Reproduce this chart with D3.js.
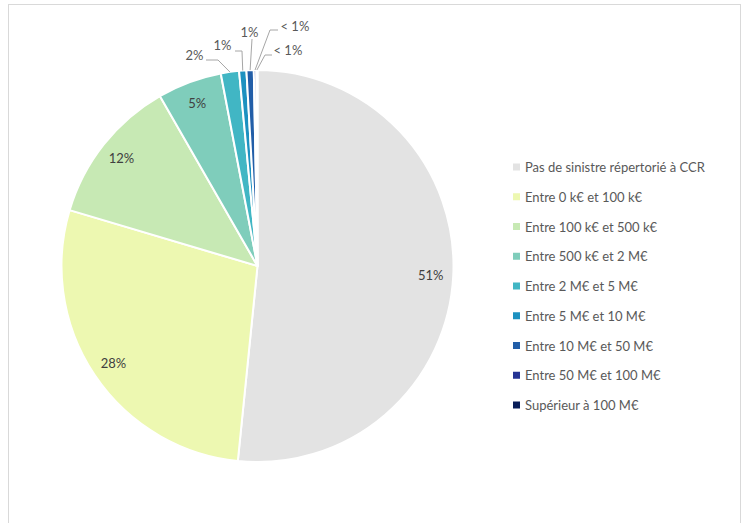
<!DOCTYPE html>
<html><head><meta charset="utf-8">
<script src="https://cdn.jsdelivr.net/npm/d3@7"></script>
<style>body{margin:0;background:#fff}svg{display:block}</style>
</head><body>
<script>
const categories = ["Pas de sinistre répertorié à CCR","Entre 0 k€ et 100 k€","Entre 100 k€ et 500 k€","Entre 500 k€ et 2 M€","Entre 2 M€ et 5 M€","Entre 5 M€ et 10 M€","Entre 10 M€ et 50 M€","Entre 50 M€ et 100 M€","Supérieur à 100 M€"];
const values = [51.6, 28.0, 12.1, 5.3, 1.5, 0.6, 0.6, 0.2, 0.1];
const valueLabels = ["51%","28%","12%","5%","2%","1%","1%","< 1%","< 1%"];
const colors = ["#e3e3e3","#edf8b1","#c7e9b4","#7fcdbb","#41b6c4","#1d91c0","#225ea8","#253494","#081d58"];

const W = 742, H = 523;
const cx = 257.5, cy = 266, R = 196;
const FONT = "Lato, 'Open Sans', sans-serif";
const FS = 13;

const svg = d3.select("body").append("svg").attr("width", W).attr("height", H);
svg.append("rect").attr("x", 8.5).attr("y", 4.5).attr("width", 732).attr("height", H + 10)
  .attr("fill", "#fff").attr("stroke", "#d9d9d9").attr("stroke-width", 1);

const pie = d3.pie().sort(null).value(d => d)(values);
const arc = d3.arc().innerRadius(0).outerRadius(R);
const g = svg.append("g").attr("transform", `translate(${cx},${cy})`);

g.selectAll("path.slice").data(pie).join("path").attr("class", "slice")
  .attr("d", arc).attr("fill", (d, i) => colors[i])
  .attr("stroke", "#fff").attr("stroke-width", 2).attr("stroke-linejoin", "round");

// inside labels
const labelArc = d3.arc().innerRadius(R * 0.885).outerRadius(R * 0.885);
g.selectAll("text.in").data(pie.slice(0, 4)).join("text").attr("class", "in")
  .attr("transform", d => `translate(${labelArc.centroid(d)})`)
  .attr("text-anchor", "middle").attr("dominant-baseline", "central")
  .attr("font-family", FONT).attr("font-size", FS).attr("fill", "#404040")
  .text((d, i) => valueLabels[i]);

// callouts for small slices (layout offsets relative to pie centre)
const callouts = [
  {i: 4, elbow: [-39.5, -206], end: [-51.5, -206], text: [-54, -211], anchor: "end"},
  {i: 5, elbow: [-15.5, -215], end: [-22.5, -215], text: [-26, -221], anchor: "end"},
  {i: 6, elbow: [-5.5, -227], end: [-5.5, -227], text: [-8, -234], anchor: "middle"},
  {i: 7, elbow: [12.5, -236], end: [20.5, -236], text: [23, -240], anchor: "start"},
  {i: 8, elbow: [7.5, -211], end: [14.5, -211], text: [16, -216], anchor: "start"}
];
const outer = d3.arc().innerRadius(R).outerRadius(R);
callouts.forEach(c => {
  const d = pie[c.i];
  const p = outer.centroid(d);
  g.append("polyline")
    .attr("points", [p, c.elbow, c.end].map(q => q.join(",")).join(" "))
    .attr("fill", "none").attr("stroke", "#a6a6a6").attr("stroke-width", 1);
  g.append("text").attr("x", c.text[0]).attr("y", c.text[1])
    .attr("text-anchor", c.anchor).attr("dominant-baseline", "central")
    .attr("font-family", FONT).attr("font-size", FS).attr("fill", "#595959")
    .text(valueLabels[c.i]);
});

// legend
const legY = d3.scalePoint().domain(d3.range(categories.length)).range([167, 405]);
const leg = svg.append("g");
categories.forEach((c, i) => {
  leg.append("rect").attr("x", 513).attr("y", legY(i) - 3.5).attr("width", 7).attr("height", 7)
    .attr("fill", colors[i]);
  leg.append("text").attr("x", 525).attr("y", legY(i))
    .attr("dominant-baseline", "central")
    .attr("font-family", FONT).attr("font-size", FS).attr("fill", "#595959")
    .text(c);
});
</script>
</body></html>
